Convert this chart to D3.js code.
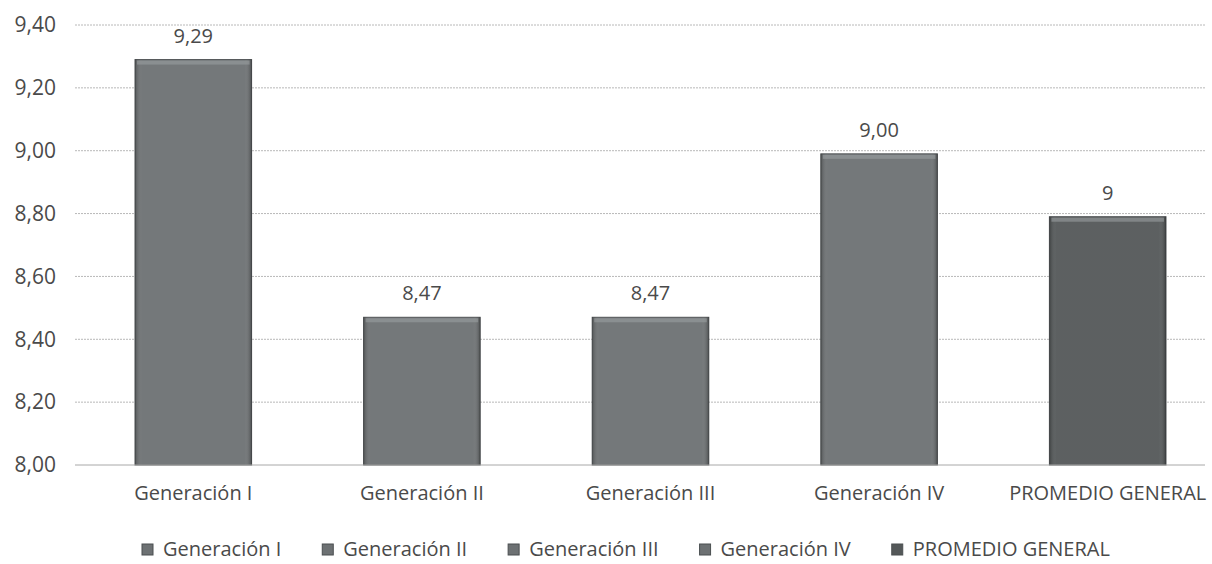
<!DOCTYPE html>
<html>
<head>
<meta charset="utf-8">
<script src="https://cdn.jsdelivr.net/npm/d3@7"></script>
<style>
  body { margin: 0; background: #fff; }
  text { font-family: "Open Sans", sans-serif; fill: #4a4a4a; }
</style>
</head>
<body>
<script>
// datos
const categorias = ["Generación I", "Generación II", "Generación III", "Generación IV", "PROMEDIO GENERAL"];
const valores = [9.29, 8.47, 8.47, 8.99, 8.79];
const etiquetas = ["9,29", "8,47", "8,47", "9,00", "9"];
const colores = ["#6d7173", "#6d7173", "#6d7173", "#6d7173", "#545859"];
const ticksY = [8.0, 8.2, 8.4, 8.6, 8.8, 9.0, 9.2, 9.4];

const width = 1212, height = 564;
const fmt = d => d.toFixed(2).replace(".", ",");

const svg = d3.select("body").append("svg")
    .attr("width", width)
    .attr("height", height);

const x = d3.scaleBand()
    .domain(categorias)
    .range([79, 1222])
    .paddingInner(0.49)
    .paddingOuter(0.245);

const y = d3.scaleLinear()
    .domain([8.0, 9.4])
    .range([465, 25]);

// gradiente para el efecto biselado
const defs = svg.append("defs");
const grad = defs.append("linearGradient").attr("id", "bisel").attr("x1", 0).attr("x2", 1);
grad.append("stop").attr("offset", 0).attr("stop-color", "#000").attr("stop-opacity", 0.25);
grad.append("stop").attr("offset", 0.06).attr("stop-color", "#fff").attr("stop-opacity", 0.05);
grad.append("stop").attr("offset", 0.94).attr("stop-color", "#fff").attr("stop-opacity", 0.05);
grad.append("stop").attr("offset", 1).attr("stop-color", "#000").attr("stop-opacity", 0.3);

// líneas de cuadrícula punteadas
svg.append("g")
  .selectAll("line")
  .data(ticksY.slice(1))
  .join("line")
    .attr("x1", 75).attr("x2", 1205)
    .attr("y1", d => y(d)).attr("y2", d => y(d))
    .attr("stroke", "#b8b8b8")
    .attr("stroke-width", 1)
    .attr("stroke-dasharray", "2,1");

// eje Y
const yAxis = g => g
    .attr("transform", "translate(56,0)")
    .call(d3.axisLeft(y).tickValues(ticksY).tickFormat(fmt).tickSize(0))
    .call(g => g.select(".domain").remove())
    .call(g => g.selectAll("text")
        .attr("x", 0)
        .style("font-family", "'Open Sans', sans-serif")
        .style("font-size", "21px")
        .attr("fill", "#505050"));
svg.append("g").call(yAxis);

// barras
const bars = svg.append("g")
  .selectAll("g")
  .data(categorias)
  .join("g");

bars.append("rect")
    .attr("x", d => x(d))
    .attr("y", (d, i) => y(valores[i]))
    .attr("width", x.bandwidth())
    .attr("height", (d, i) => y(8.0) - y(valores[i]))
    .attr("fill", (d, i) => colores[i])
    .attr("stroke", "#4b4f51")
    .attr("stroke-width", 1);

bars.append("rect")
    .attr("x", d => x(d))
    .attr("y", (d, i) => y(valores[i]))
    .attr("width", x.bandwidth())
    .attr("height", (d, i) => y(8.0) - y(valores[i]))
    .attr("fill", "url(#bisel)");

// borde superior más claro
bars.append("rect")
    .attr("x", d => x(d) + 2)
    .attr("y", (d, i) => y(valores[i]) + 1)
    .attr("width", x.bandwidth() - 4)
    .attr("height", 4)
    .attr("fill", "#9a9ea0")
    .attr("opacity", 0.6);

// línea base
svg.append("line")
    .attr("x1", 75).attr("x2", 1205)
    .attr("y1", y(8.0)).attr("y2", y(8.0))
    .attr("stroke", "#a8a8a8");

// etiquetas de valores
bars.append("text")
    .attr("x", d => x(d) + x.bandwidth() / 2)
    .attr("y", (d, i) => y(valores[i]) - 17)
    .attr("text-anchor", "middle")
    .style("font-size", "20px")
    .text((d, i) => etiquetas[i]);

// categorías
const xAxis = g => g
    .attr("transform", `translate(0,${y(8.0)})`)
    .call(d3.axisBottom(x).tickSize(0))
    .call(g => g.select(".domain").remove())
    .call(g => g.selectAll("text")
        .attr("y", 35)
        .attr("dy", 0)
        .style("font-family", "'Open Sans', sans-serif")
        .style("font-size", "20px")
        .attr("fill", "#404040"));
svg.append("g").call(xAxis);

// leyenda
const leyenda = svg.append("g").attr("transform", "translate(0,556)");
const items = leyenda.selectAll("g")
  .data(categorias)
  .join("g");
items.append("rect")
    .attr("width", 11).attr("height", 11)
    .attr("y", -12)
    .attr("fill", (d, i) => colores[i])
    .attr("stroke", "#4b4f51");
items.append("text")
    .attr("x", 21)
    .style("font-size", "20px")
    .attr("fill", "#404040")
    .text(d => d);

const anchos = [];
items.each(function() {
  anchos.push(21 + this.querySelector("text").getComputedTextLength());
});
const gap = 41;
let pos = 142;
items.attr("transform", (d, i) => {
  const t = `translate(${pos},0)`;
  pos += anchos[i] + gap;
  return t;
});
</script>
</body>
</html>
